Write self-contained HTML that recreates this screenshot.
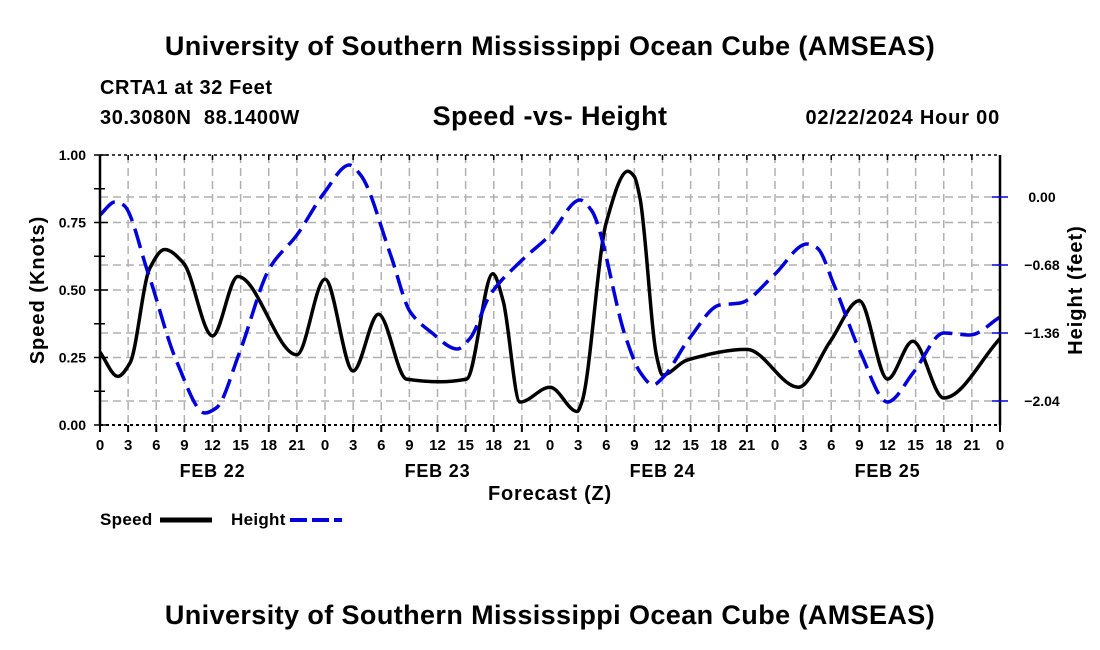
<!DOCTYPE html>
<html><head><meta charset="utf-8"><style>
body{margin:0;background:#fff;}
svg{display:block;font-family:"Liberation Sans",Arial,sans-serif;}
</style></head><body>
<svg id="chart" width="1100" height="650" viewBox="0 0 1100 650">
<text x="550" y="55" text-anchor="middle" font-size="27" font-weight="bold" letter-spacing="0.4">University of Southern Mississippi Ocean Cube (AMSEAS)</text>
<text x="100" y="94" font-size="20" font-weight="bold" letter-spacing="0.6">CRTA1 at 32 Feet</text>
<text x="100" y="124" font-size="20" font-weight="bold" letter-spacing="0.6" xml:space="preserve">30.3080N  88.1400W</text>
<text x="550" y="125" text-anchor="middle" font-size="27" font-weight="bold" letter-spacing="0.4">Speed -vs- Height</text>
<text x="1000" y="124" text-anchor="end" font-size="20" font-weight="bold" letter-spacing="0.8">02/22/2024 Hour 00</text>
<g id="grid"></g>
<g id="series"></g>
<g id="axes"></g>
<text transform="translate(44,290) rotate(-90)" text-anchor="middle" font-size="20" font-weight="bold" letter-spacing="1">Speed (Knots)</text>
<text transform="translate(1082,290) rotate(-90)" text-anchor="middle" font-size="20" font-weight="bold" letter-spacing="1">Height (feet)</text>
<text x="550" y="500" text-anchor="middle" font-size="20" font-weight="bold" letter-spacing="0.8">Forecast (Z)</text>
<g>
<text x="100" y="525" font-size="17" font-weight="bold" letter-spacing="0.3">Speed</text>
<line x1="160" y1="520" x2="212" y2="520" stroke="#000" stroke-width="5"/>
</g>
<g>
<text x="231" y="525" font-size="17" font-weight="bold" letter-spacing="0.3">Height</text>
<line x1="290" y1="520" x2="342" y2="520" stroke="#0000dd" stroke-width="4" stroke-dasharray="17,5"/>
</g>
<text x="550" y="624" text-anchor="middle" font-size="27" font-weight="bold" letter-spacing="0.4">University of Southern Mississippi Ocean Cube (AMSEAS)</text>
</svg>
<script>
const speedHours=[0,1.9,3.2,5.3,6.9,8.9,12,14.7,21,24,27,29.7,32.7,36.3,39.1,41.9,43,44.8,48,50.9,51.4,54,56.3,57,57.6,59.4,60,62.6,69,74.5,77.9,81,84,86.7,90,96];
const speedValues=[0.27,0.18,0.23,0.58,0.65,0.60,0.33,0.55,0.26,0.54,0.20,0.41,0.17,0.16,0.17,0.56,0.46,0.085,0.14,0.05,0.085,0.75,0.94,0.92,0.84,0.25,0.185,0.24,0.28,0.14,0.31,0.46,0.17,0.31,0.10,0.32];
const heightHours=[0,1.6,2.5,5.1,8.2,11.2,12.4,14.9,18.1,21,23.9,26.6,27.8,31,33.1,35.3,38.1,39.5,41.6,44.8,48,51.2,52.4,56.1,57.6,59,60,62.9,66.1,68.3,71.9,75.4,76.5,78.3,81.1,84,86.8,90,92.8,96];
const heightValues=[-0.18,-0.05,-0.08,-0.75,-1.65,-2.16,-2.11,-1.55,-0.71,-0.38,0.04,0.32,0.22,-0.58,-1.15,-1.35,-1.52,-1.41,-0.98,-0.65,-0.38,-0.03,-0.13,-1.41,-1.75,-1.88,-1.81,-1.41,-1.08,-1.06,-0.78,-0.47,-0.51,-0.88,-1.55,-2.05,-1.75,-1.36,-1.38,-1.2];
const xTickLabels=["0","3","6","9","12","15","18","21","0","3","6","9","12","15","18","21","0","3","6","9","12","15","18","21","0","3","6","9","12","15","18","21","0"];
const dayLabels=["FEB 22","FEB 23","FEB 24","FEB 25"];
const leftTicks=[0,0.25,0.5,0.75,1.0];
const rightTicks=[0,-0.68,-1.36,-2.04];

const L=100,R=1000,T=155,B=425;
const xs=h=>L+(h/96)*(R-L);
const ysL=v=>B-v*(B-T);
const ysR=v=>197-v*100;
const NS="http://www.w3.org/2000/svg";
function mk(tag,attrs,parent){const e=document.createElementNS(NS,tag);for(const k in attrs)e.setAttribute(k,attrs[k]);parent.appendChild(e);return e;}
const grid=document.getElementById('grid'),axes=document.getElementById('axes'),series=document.getElementById('series');

for(let i=1;i<32;i++){const x=xs(i*3);const g=mk('line',{x1:x,y1:T,x2:x,y2:B,stroke:'#b0b0b0','stroke-width':1.5,'stroke-dasharray':'8,5'},grid);

}
[0.25,0.5,0.75].forEach(v=>{const g=mk('line',{x1:L,y1:ysL(v),x2:R,y2:ysL(v),stroke:'#b0b0b0','stroke-width':1.5,'stroke-dasharray':'8,5'},grid);

});
rightTicks.forEach(v=>{const g=mk('line',{x1:L,y1:ysR(v),x2:R,y2:ysR(v),stroke:'#b0b0b0','stroke-width':1.5,'stroke-dasharray':'8,5'},grid);

});

// monotone cubic (Fritsch-Carlson) in screen space
function path(hs,vs,ys){const x=hs.map(xs),y=vs.map(ys),n=x.length;
const d=[],m=new Array(n);for(let i=0;i<n-1;i++)d.push((y[i+1]-y[i])/(x[i+1]-x[i]));
m[0]=d[0];m[n-1]=d[n-2];
for(let i=1;i<n-1;i++){if(d[i-1]*d[i]<=0)m[i]=0;else{const w1=2*(x[i+1]-x[i])+(x[i]-x[i-1]),w2=(x[i+1]-x[i])+2*(x[i]-x[i-1]);m[i]=(w1+w2)/(w1/d[i-1]+w2/d[i]);}}
let s='M'+x[0]+','+y[0];
for(let i=0;i<n-1;i++){const h=(x[i+1]-x[i])/3;s+=' C'+(x[i]+h)+','+(y[i]+m[i]*h)+' '+(x[i+1]-h)+','+(y[i+1]-m[i+1]*h)+' '+x[i+1]+','+y[i+1];}
return s;}
const sp=mk('path',{d:path(speedHours,speedValues,ysL),fill:'none',stroke:'#000','stroke-width':3.5,'stroke-linejoin':'round'},series);


const hp=mk('path',{d:path(heightHours,heightValues,ysR),fill:'none',stroke:'#0000dd','stroke-width':3.5,'stroke-dasharray':'20,8'},series);



mk('line',{x1:L,y1:T,x2:R,y2:T,stroke:'#000','stroke-width':1.5,'stroke-dasharray':'3,3'},axes);
mk('line',{x1:L,y1:B,x2:R,y2:B,stroke:'#000','stroke-width':2,'stroke-dasharray':'3,3'},axes);
mk('line',{x1:L,y1:T,x2:L,y2:B,stroke:'#000','stroke-width':2.5},axes);
mk('line',{x1:R,y1:T,x2:R,y2:B,stroke:'#000','stroke-width':2.5},axes);
for(let i=0;i<=32;i++){const x=xs(i*3);
mk('line',{x1:x,y1:B,x2:x,y2:B+7,stroke:'#000','stroke-width':2},axes);
mk('line',{x1:x,y1:T,x2:x,y2:T+5,stroke:'#000','stroke-width':1.5},axes);
const t=mk('text',{x:x,y:450,'text-anchor':'middle','font-size':15,'font-weight':'bold'},axes);t.textContent=xTickLabels[i];

}
dayLabels.forEach((d,i)=>{const t=mk('text',{x:xs(i*24+12),y:477,'text-anchor':'middle','font-size':18,'font-weight':'bold','letter-spacing':'0.8'},axes);t.textContent=d;

});
for(let v=0;v<=1.001;v+=0.125){mk('line',{x1:L,y1:ysL(v),x2:L+(Math.abs(v*4-Math.round(v*4))<0.01?8:5),y2:ysL(v),stroke:'#000','stroke-width':1.5},axes);
mk('line',{x1:L-6,y1:ysL(v),x2:L,y2:ysL(v),stroke:'#000','stroke-width':1.5},axes);}
leftTicks.forEach(v=>{const t=mk('text',{x:86,y:ysL(v)+5,'text-anchor':'end','font-size':14,'font-weight':'bold'},axes);t.textContent=v.toFixed(2);

});
rightTicks.forEach(v=>{mk('line',{x1:R-8,y1:ysR(v),x2:R+8,y2:ysR(v),stroke:'#0000dd','stroke-width':1.5},axes);
const t=mk('text',{x:1042,y:ysR(v)+5,'text-anchor':'middle','font-size':14,'font-weight':'bold'},axes);t.textContent=(v<0?'\u2212'+Math.abs(v).toFixed(2):v.toFixed(2));

});
</script>
</body></html>
